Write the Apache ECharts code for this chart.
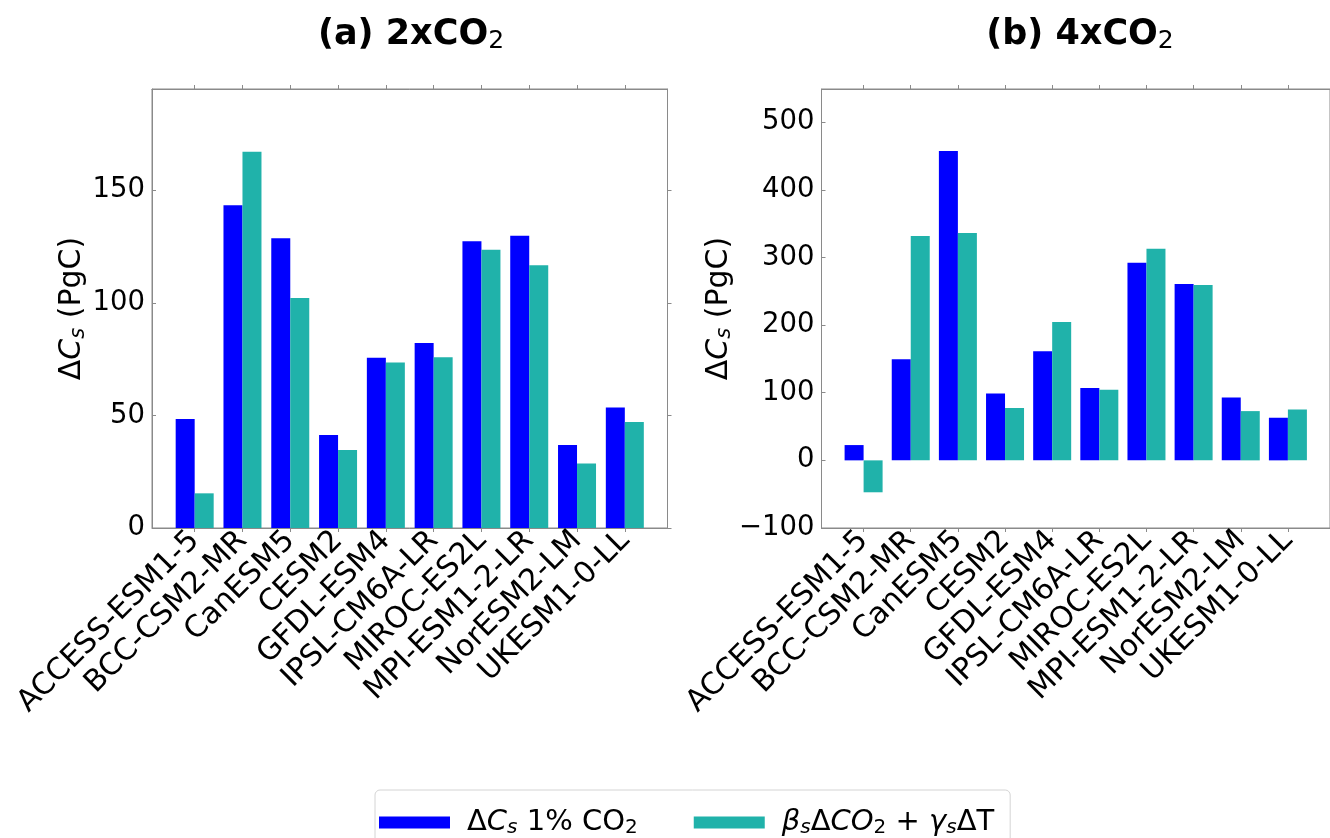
<!DOCTYPE html>
<html>
<head>
<meta charset="utf-8">
<script src="https://cdn.jsdelivr.net/npm/echarts@6/dist/echarts.min.js"></script>
<style>
html,body{margin:0;padding:0;background:#fff;}
#chart{width:1330px;height:838px;}
</style>
</head>
<body>
<div id="chart"></div>
<script>
// ---- data ----
const categories = ['ACCESS-ESM1-5','BCC-CSM2-MR','CanESM5','CESM2','GFDL-ESM4','IPSL-CM6A-LR','MIROC-ES2L','MPI-ESM1-2-LR','NorESM2-LM','UKESM1-0-LL'];
const dCs2x  = [48.4, 143.4, 128.7, 41.3, 75.6, 82.2, 127.4, 129.8, 36.9, 53.5];
const fb2x   = [15.4, 167.1, 102.2, 34.7, 73.5, 75.9, 123.6, 116.7, 28.7, 47.1];
const dCs4x  = [22.6, 149.6, 457.2, 98.9, 161.4, 106.8, 292.3, 260.8, 93.0, 63.0];
const fb4x   = [-47.2, 331.7, 336.1, 77.3, 204.7, 104.3, 313.0, 259.3, 72.8, 75.3];
const yTicks2x = [0, 50, 100, 150];
const yTicks4x = [-100, 0, 100, 200, 300, 400, 500];
const seriesNames = ['ΔCs 1% CO2', 'βsΔCO2 + γsΔT'];
const panelTitles = ['(a) 2xCO{sub|2}', '(b) 4xCO{sub|2}'];

// ---- chart ----
const FONT = 'DejaVu Sans';
const AX = '#8a8a8a';
const catIdx = categories.map((c, i) => i);
const xMin = -0.893, xMax = 9.893;

const chart = echarts.init(document.getElementById('chart'), null, {renderer: 'canvas'});

const fmtNum = v => (v < 0 ? '\u2212' + Math.abs(v) : String(v));

function xAxes(grid) {
  return [{
    type: 'value', gridIndex: grid, min: xMin, max: xMax, position: 'bottom',
    axisLine: {show: true, onZero: false, lineStyle: {color: AX}},
    axisTick: {show: true, customValues: catIdx, length: 4, lineStyle: {color: AX}},
    axisLabel: {show: true, customValues: catIdx, rotate: 45, margin: 8,
      formatter: v => categories[Math.round(v)] || '',
      fontFamily: FONT, fontSize: 30, color: '#000'},
    splitLine: {show: false}
  }, {
    type: 'value', gridIndex: grid, min: xMin, max: xMax, position: 'top',
    axisLine: {show: true, onZero: false, lineStyle: {color: AX}},
    axisTick: {show: true, customValues: catIdx, length: 4, lineStyle: {color: AX}},
    axisLabel: {show: false},
    splitLine: {show: false}
  }];
}

const nameRich = {
  d: {fontFamily: FONT, fontSize: 30, color: '#000'},
  i: {fontFamily: FONT, fontSize: 30, fontStyle: 'italic', color: '#000'},
  s: {fontFamily: FONT, fontSize: 21, fontStyle: 'italic', color: '#000', verticalAlign: 'bottom', padding: [11, 0, 0, 0]}
};

function yAxes(grid, min, max, ticks, gap) {
  return [{
    type: 'value', gridIndex: grid, min: min, max: max, position: 'left',
    name: '{d|Δ}{i|C}{s|s}{d| (PgC)}', nameLocation: 'middle', nameRotate: 90, nameGap: gap,
    nameTextStyle: {fontFamily: FONT, fontSize: 30, color: '#000', rich: nameRich},
    axisLine: {show: true, onZero: false, lineStyle: {color: AX}},
    axisTick: {show: true, customValues: ticks, inside: true, length: 4, lineStyle: {color: AX}},
    axisLabel: {show: true, customValues: ticks, formatter: fmtNum, margin: 7,
      fontFamily: FONT, fontSize: 27.5, color: '#000'},
    splitLine: {show: false}
  }, {
    type: 'value', gridIndex: grid, min: min, max: max, position: 'right',
    axisLine: {show: true, onZero: false, lineStyle: {color: AX}},
    axisTick: {show: true, customValues: ticks, length: 4, lineStyle: {color: AX}},
    axisLabel: {show: false},
    splitLine: {show: false}
  }];
}

function barSeries(name, vals, colour, xi, yi) {
  return {
    name: name, type: 'bar', xAxisIndex: xi, yAxisIndex: yi,
    barWidth: 19, barGap: '0%',
    itemStyle: {color: colour},
    data: vals.map((v, i) => [i, v])
  };
}

const legendRich = {
  t: {fontFamily: FONT, fontSize: 29, color: '#000'},
  i: {fontFamily: FONT, fontSize: 29, fontStyle: 'italic', color: '#000'},
  s: {fontFamily: FONT, fontSize: 20, fontStyle: 'italic', color: '#000', verticalAlign: 'bottom', padding: [11, 0, 0, 0]},
  n: {fontFamily: FONT, fontSize: 20, color: '#000', verticalAlign: 'bottom', padding: [11, 0, 0, 0]}
};
const legendText = {};
legendText[seriesNames[0]] = '{t|Δ}{i|C}{s|s}{t| 1% CO}{n|2}';
legendText[seriesNames[1]] = '{i|β}{s|s}{t|Δ}{i|CO}{n|2}{t| + }{i|γ}{s|s}{t|ΔT}';

const titleRich = {sub: {fontFamily: FONT, fontSize: 25, fontWeight: 'normal', color: '#000', verticalAlign: 'bottom', padding: [13, 0, 0, 0]}};

const option = {
  backgroundColor: '#fff',
  animation: false,
  title: [
    {text: panelTitles[0], left: 406, top: 11, textAlign: 'center',
     textStyle: {fontFamily: FONT, fontSize: 35, fontWeight: 'bold', color: '#000', rich: titleRich}},
    {text: panelTitles[1], left: 1075, top: 11, textAlign: 'center',
     textStyle: {fontFamily: FONT, fontSize: 35, fontWeight: 'bold', color: '#000', rich: titleRich}}
  ],
  grid: [
    {left: 152, top: 89, width: 515.5, height: 439, show: true, borderColor: AX, borderWidth: 1, backgroundColor: '#fff'},
    {left: 821.5, top: 89, width: 515.5, height: 439, show: true, borderColor: AX, borderWidth: 1, backgroundColor: '#fff'}
  ],
  xAxis: [...xAxes(0), ...xAxes(1)],
  yAxis: [...yAxes(0, 0, 195, yTicks2x, 56), ...yAxes(1, -100, 549, yTicks4x, 82)],
  legend: {
    data: seriesNames,
    left: 375, top: 790,
    icon: 'rect', itemWidth: 71, itemHeight: 12, itemGap: 56,
    padding: [18, 16, 20, 4],
    borderColor: '#d4d4d4', borderWidth: 1, borderRadius: 5,
    formatter: n => legendText[n],
    textStyle: {fontFamily: FONT, fontSize: 29, color: '#000', rich: legendRich, padding: [0, 0, 0, 12]}
  },
  series: [
    barSeries(seriesNames[0], dCs2x, '#0000ff', 0, 0),
    barSeries(seriesNames[1], fb2x, '#20b2aa', 0, 0),
    barSeries(seriesNames[0], dCs4x, '#0000ff', 2, 2),
    barSeries(seriesNames[1], fb4x, '#20b2aa', 2, 2)
  ]
};
chart.setOption(option);
</script>
</body>
</html>
